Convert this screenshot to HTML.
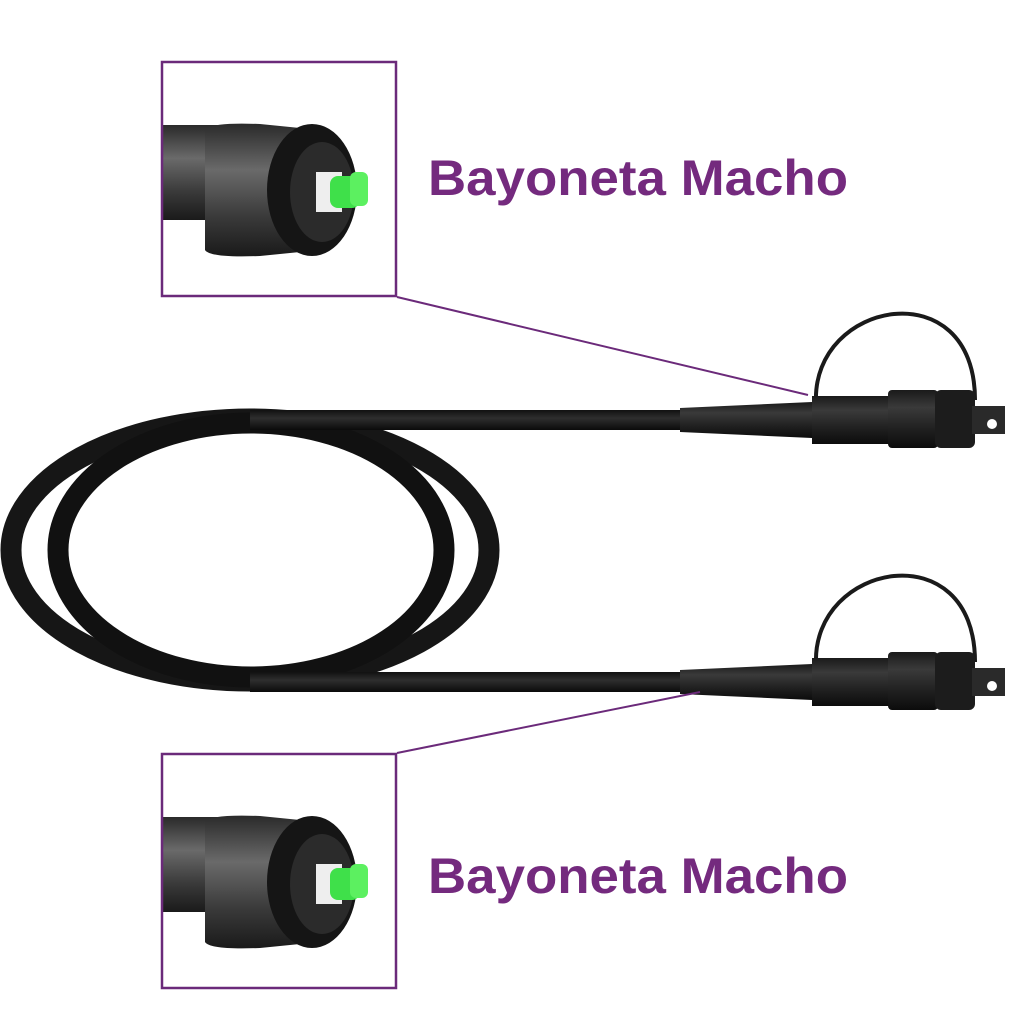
<!DOCTYPE html>
<html><head><style>
html,body{margin:0;padding:0;background:#fff;}
svg{display:block}
</style></head><body>
<svg width="1024" height="1024" viewBox="0 0 1024 1024" xmlns="http://www.w3.org/2000/svg">
<defs>
<linearGradient id="cab" x1="0" y1="0" x2="0" y2="1">
<stop offset="0" stop-color="#111"/><stop offset="0.4" stop-color="#2e2e2e"/><stop offset="1" stop-color="#0a0a0a"/>
</linearGradient>
<linearGradient id="body" x1="0" y1="0" x2="0" y2="1">
<stop offset="0" stop-color="#1a1a1a"/><stop offset="0.3" stop-color="#3a3a3a"/><stop offset="0.7" stop-color="#1e1e1e"/><stop offset="1" stop-color="#0c0c0c"/>
</linearGradient>
<linearGradient id="grey" x1="0" y1="0" x2="0" y2="1">
<stop offset="0" stop-color="#2a2a2a"/><stop offset="0.35" stop-color="#6a6a6a"/><stop offset="0.7" stop-color="#3a3a3a"/><stop offset="1" stop-color="#1a1a1a"/>
</linearGradient>
<g id="conn">
<rect x="250" y="-10" width="440" height="20" fill="url(#cab)"/>
<path d="M680 -12 L812 -18 L812 18 L680 12 Z" fill="url(#body)"/>
<path d="M816 -18 C812 -120 975 -150 975 -20" fill="none" stroke="#1a1a1a" stroke-width="4"/>
<rect x="812" y="-24" width="80" height="48" fill="url(#body)"/>
<rect x="888" y="-30" width="50" height="58" rx="4" fill="url(#body)"/>
<rect x="935" y="-30" width="40" height="58" rx="6" fill="#1c1c1c"/>
<rect x="972" y="-14" width="33" height="28" fill="#2a2a2a"/>
<circle cx="992" cy="4" r="5" fill="#fff"/>
</g>
<g id="inset">
<rect x="161" y="125" width="60" height="95" fill="url(#grey)"/>
<path d="M205 130 Q210 122 260 124 L300 128 L300 252 L260 256 Q210 258 205 250 Z" fill="url(#grey)"/>
<ellipse cx="312" cy="190" rx="45" ry="66" fill="#151515"/>
<ellipse cx="322" cy="192" rx="32" ry="50" fill="#2b2b2b"/>
<rect x="316" y="172" width="26" height="40" fill="#eee"/>
<rect x="330" y="176" width="30" height="32" rx="8" fill="#3fe04a"/>
<rect x="350" y="172" width="18" height="34" rx="6" fill="#5cf060"/>
</g>
</defs>

<ellipse cx="250" cy="550" rx="239" ry="131" fill="none" stroke="#161616" stroke-width="21"/>
<ellipse cx="251" cy="550" rx="193" ry="127" fill="none" stroke="#111" stroke-width="21"/>

<use href="#conn" transform="translate(0,420)"/>
<use href="#conn" transform="translate(0,682)"/>

<use href="#inset"/>
<use href="#inset" transform="translate(0,692)"/>
<rect x="162" y="62" width="234" height="234" fill="none" stroke="#6b2a7a" stroke-width="2.5"/>
<rect x="162" y="754" width="234" height="234" fill="none" stroke="#6b2a7a" stroke-width="2.5"/>
<line x1="397" y1="297" x2="808" y2="395" stroke="#6b2a7a" stroke-width="2"/>
<line x1="397" y1="753" x2="700" y2="692" stroke="#6b2a7a" stroke-width="2"/>

<text x="428" y="195" font-family="Liberation Sans, sans-serif" font-weight="bold" font-size="50" fill="#742a7e" textLength="420" lengthAdjust="spacingAndGlyphs">Bayoneta Macho</text>
<text x="428" y="893" font-family="Liberation Sans, sans-serif" font-weight="bold" font-size="50" fill="#742a7e" textLength="420" lengthAdjust="spacingAndGlyphs">Bayoneta Macho</text>
</svg>
</body></html>
